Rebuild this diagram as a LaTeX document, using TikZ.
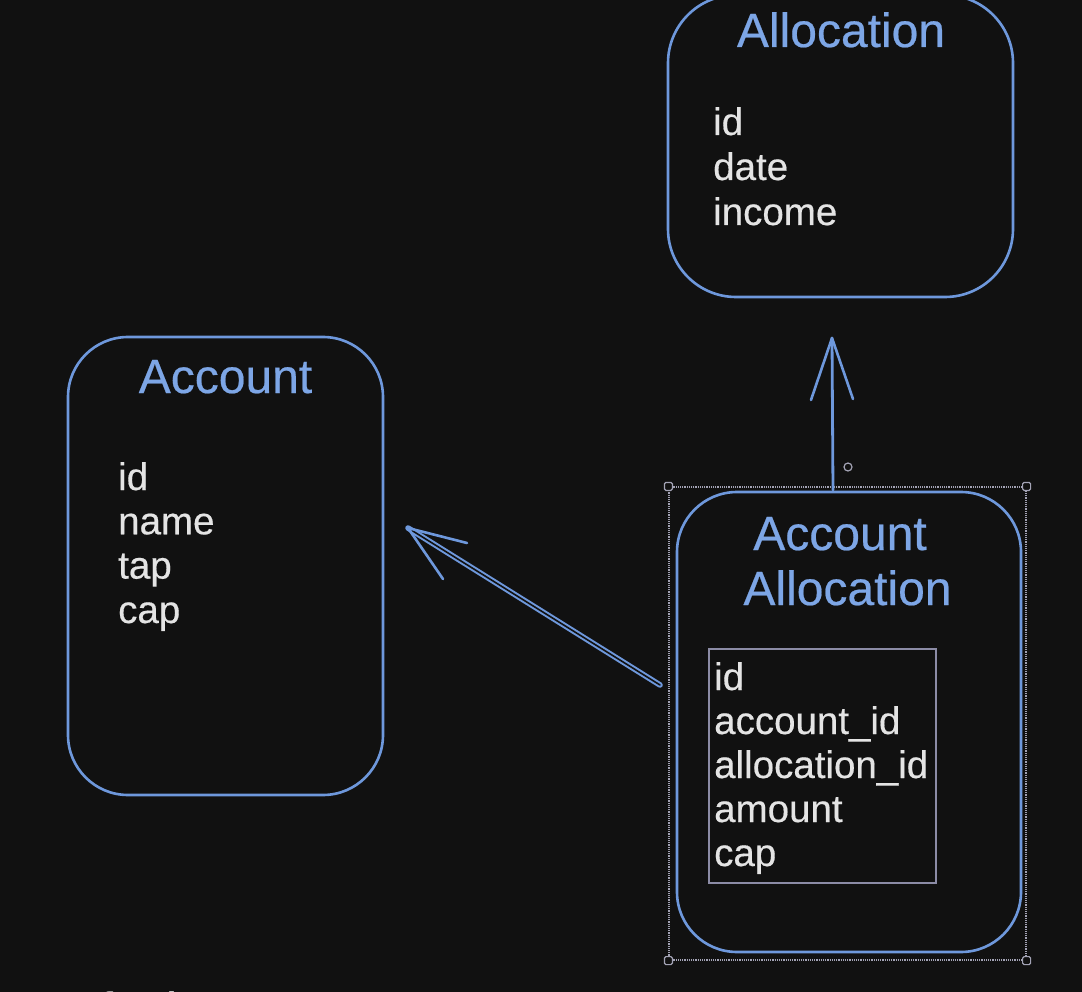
\documentclass[tikz,border=0pt]{standalone}
\usepackage{fontspec}
\setmainfont{Liberation Sans}
\newfontfamily\drawfont[FakeBold=0.45]{Liberation Sans}
\definecolor{bg}{HTML}{111111}
\definecolor{boxblue}{HTML}{6E98DC}
\definecolor{titleblue}{HTML}{7DA6E6}
\definecolor{fieldgray}{HTML}{E4E4E4}
\definecolor{selgray}{HTML}{A3A3B5}
\definecolor{innergray}{HTML}{8C8CA6}
\definecolor{capgray}{HTML}{BDBDBD}
\tikzset{
  entity/.style={draw=boxblue, line width=2.6pt, rounded corners=60pt, fill=bg, inner sep=0pt},
  selbox/.style={draw=selgray, line width=1.2pt, inner sep=0pt, densely dotted},
  innerbox/.style={draw=innergray, line width=1.6pt, inner sep=0pt},
  handle/.style={draw=selgray, line width=1.2pt, fill=bg, minimum size=8pt, inner sep=0pt, rounded corners=1.5pt},
  rothandle/.style={draw=selgray, circle, line width=1.2pt, minimum size=8pt, inner sep=0pt},
  title/.style={font=\drawfont\fontsize{48}{58}\selectfont, text=titleblue, inner sep=0pt, anchor=base},
  field/.style={font=\drawfont\fontsize{38.5}{44}\selectfont, text=fieldgray, inner sep=0pt, anchor=base west},
  conn/.style={draw=boxblue, line width=2.8pt, line cap=round, line join=round},
  dconn/.style={draw=boxblue, line width=2pt, double=bg, double distance=1.6pt, line cap=round}
}
\begin{document}
\begin{tikzpicture}[x=1pt,y=-1pt]
\useasboundingbox (0,0) rectangle (1082,992);
\clip (0,0) rectangle (1082,992);
\fill[bg] (0,0) rectangle (1082,992);

% boxes
\node[entity, minimum width=315pt, minimum height=458pt] (account) at (225.5,566) {};
\node[entity, rounded corners=68pt, minimum width=345pt, minimum height=302pt] (allocation) at (840.5,146) {};
\node[entity, minimum width=344pt, minimum height=460pt] (accalloc) at (849,722) {};

% selection frame
\node[selbox, minimum width=357pt, minimum height=473pt] (sel) at (847.5,723.5) {};
\node[handle] (h1) at (sel.north west) {};
\node[handle] (h2) at (sel.north east) {};
\node[handle] (h3) at (sel.south west) {};
\node[handle] (h4) at (sel.south east) {};
\node[rothandle] (rot) at (848,467) {};

% inner field frame
\node[innerbox, minimum width=227pt, minimum height=234pt] (inner) at (822.5,766) {};

% titles
\node[title] (tAccount) at (225.5,393) {Account};
\node[title] (tAllocation) at (841,47) {Allocation};
\node[title] (tAA1) at (840,550) {Account};
\node[title] (tAA2) at (847.5,605) {Allocation};

% fields: Account
\node[field] (a1) at (118,490) {id};
\node[field] (a2) at (118,534.3) {name};
\node[field] (a3) at (118,578.6) {tap};
\node[field] (a4) at (118,623) {cap};

% fields: Allocation
\node[field] (b1) at (713,135) {id};
\node[field] (b2) at (713,180) {date};
\node[field] (b3) at (713,225) {income};

% fields: Account Allocation
\node[field] (c1) at (714,690) {id};
\node[field] (c2) at (714,734) {account\_id};
\node[field] (c3) at (714,778) {allocation\_id};
\node[field] (c4) at (714,822) {amount};
\node[field] (c5) at (714,866) {cap};

% connector: Account Allocation -> Allocation
\coordinate (upTail) at (833,490);
\coordinate (upTip) at (832,338);
\coordinate (upW1) at (811,400);
\coordinate (upW2) at (853,399);
\draw[conn] (upTail) -- (upTip);
\draw[conn, line width=2.6pt] (upW1) -- (upTip) -- (upW2);

% connector: Account Allocation -> Account
\coordinate (dTail) at (660,685);
\coordinate (dTip) at (408,528);
\coordinate (dW1) at (467,543);
\coordinate (dW2) at (443,579);
\draw[dconn] (dTail) -- (dTip);
\draw[conn, line width=2.6pt] (dW1) -- (dTip) -- (dW2);

% cut-off caption at the bottom
\node[font=\drawfont\fontsize{48}{58}\selectfont, text=capgray, inner sep=0pt, anchor=base west] (caption) at (38,1026) {Default Account};
\end{tikzpicture}
\end{document}
